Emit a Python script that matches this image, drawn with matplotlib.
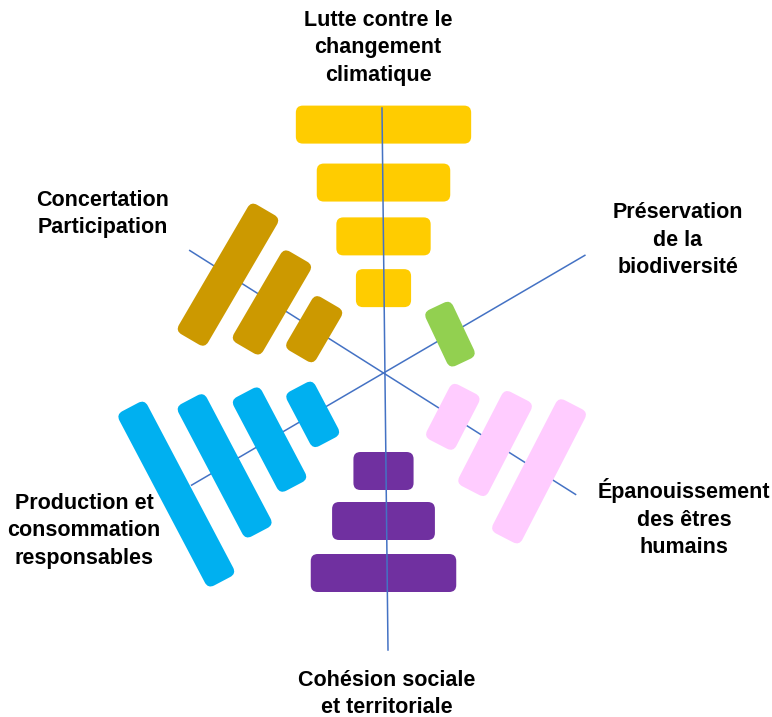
import numpy as np
import matplotlib
matplotlib.use("Agg")
import matplotlib.pyplot as plt
from matplotlib.patches import FancyBboxPatch
from matplotlib.transforms import Affine2D

# data: one axis per theme, score = number of bars drawn on it
categories = ["Lutte contre le\nchangement\nclimatique",
              "Préservation\nde la\nbiodiversité",
              "Épanouissement\ndes êtres\nhumains",
              "Cohésion sociale\net territoriale",
              "Production et\nconsommation\nresponsables",
              "Concertation\nParticipation"]
scores = [4, 1, 3, 3, 4, 3]
colors = ["#FFCC00", "#92D050", "#FFCCFF", "#7030A0", "#00B0F0", "#CC9900"]

# layout (pixels, y up)
W, H = 772, 717
cx, cy = 383.5, H - 373
axis_angle = [90, 30.3, -32.3, -90, 210.3, 147.7]
level_dist = [82, 132, 184, 240]
level_len = [62, 106, 150, 197]
len_scale = [0.89, 1.0, 1.0, 0.97, 1.0, 1.0]
dist_scale = [1.035, 1, 1, 1, 1, 1]
dist_off = [0, -5, 0, 16, 0, 0]
thick = [38, 30, 33, 38, 32, 34]
tilt = [0, -5, 5, 0, -2.5, 2]
label_pos = [(378, H - 48), (678, H - 240), (684, H - 518),
             (387, H - 694), (84, H - 531), (103, H - 214)]

fig = plt.figure(figsize=(W / 100, H / 100), dpi=100)
ax = fig.add_axes([0, 0, 1, 1])
ax.set_xlim(0, W)
ax.set_ylim(0, H)
ax.axis('off')

line_c = "#4472C4"
# diagonal axes under the bars
for a, r1, r2 in [(147.7, 230, 228), (30.3, 234, 223)]:
    t = np.deg2rad(a)
    ax.plot([cx + r1 * np.cos(t), cx - r2 * np.cos(t)],
            [cy + r1 * np.sin(t), cy - r2 * np.sin(t)],
            color=line_c, lw=1.1, zorder=1, solid_capstyle='butt')

# bars
for i, n in enumerate(scores):
    t = np.deg2rad(axis_angle[i])
    for k in range(n):
        d = level_dist[k] * dist_scale[i] + dist_off[i]
        L = level_len[k] * len_scale[i]
        bx = cx + d * np.cos(t)
        by = cy + d * np.sin(t)
        rot = axis_angle[i] + 90 + tilt[i]
        p = FancyBboxPatch((-L / 2, -thick[i] / 2), L, thick[i],
                           boxstyle="round,pad=0,rounding_size=7",
                           fc=colors[i], ec='none', zorder=2,
                           transform=Affine2D().rotate_deg(rot).translate(bx, by) + ax.transData)
        ax.add_patch(p)

# vertical axis on top of the bars
ax.plot([382, 388], [H - 108, H - 650], color=line_c, lw=1.1, zorder=3)

for lab, (x, y) in zip(categories, label_pos):
    ax.text(x, y, lab, ha='center', va='center', multialignment='center',
            fontsize=15.5, fontweight='bold', family='Liberation Sans',
            linespacing=1.4, color='black')

fig.savefig("out.png", dpi=100)
